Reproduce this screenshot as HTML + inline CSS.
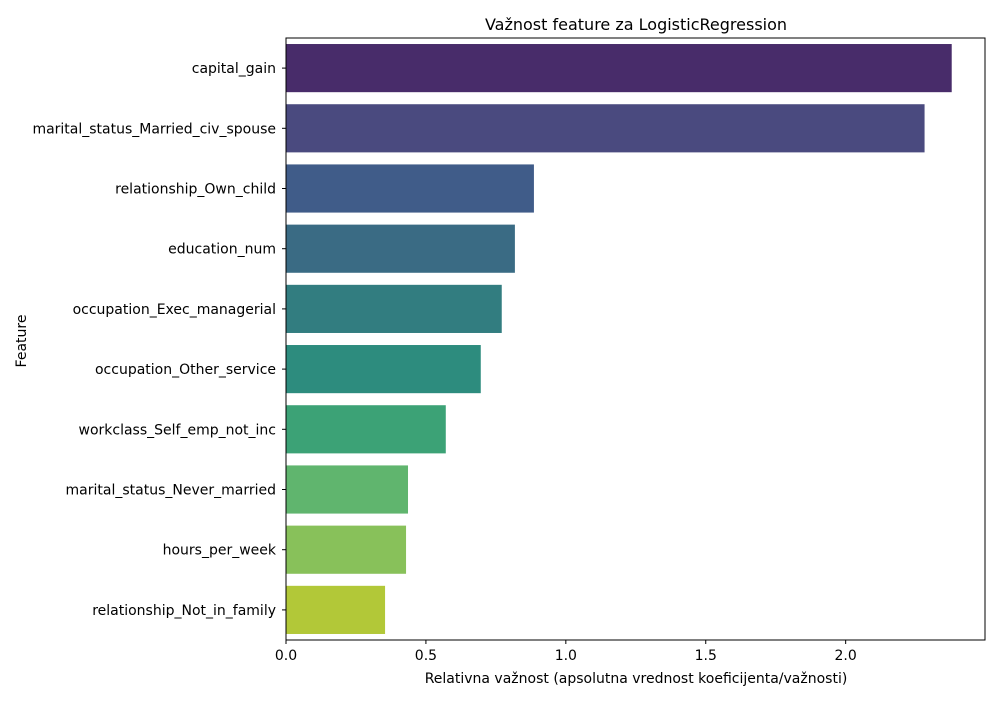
<!DOCTYPE html>
<html><head><meta charset="utf-8"><style>
body{margin:0;background:#fff;font-family:"Liberation Sans","DejaVu Sans",sans-serif;}
svg text{font-family:"DejaVu Sans","Liberation Sans",sans-serif;}
</style></head><body>
<svg id="chart" width="1000" height="700">
<text x="636" y="30" text-anchor="middle" font-size="16">Važnost feature za LogisticRegression</text>
<text x="636" y="683" text-anchor="middle" font-size="14">Relativna važnost (apsolutna vrednost koeficijenta/važnosti)</text>
<text transform="translate(26,341) rotate(-90)" text-anchor="middle" font-size="14">Feature</text>
<g id="bars"></g><g id="yticks"></g><g id="xticks"></g>
<rect x="286" y="38" width="699" height="602" fill="none" stroke="#000" stroke-width="1"/>
</svg>
<script>
const categories=["capital_gain","marital_status_Married_civ_spouse","relationship_Own_child","education_num","occupation_Exec_managerial","occupation_Other_service","workclass_Self_emp_not_inc","marital_status_Never_married","hours_per_week","relationship_Not_in_family"];
const values=[2.379,2.282,0.886,0.818,0.771,0.696,0.571,0.436,0.429,0.354];
const colors=["#482c6a","#4a4a7f","#405c89","#3a6b84","#327d80","#2d8c7e","#3ca276","#60b56e","#88c15a","#b2c838"];
const xTicks=[0,0.5,1.0,1.5,2.0];
const xTickLabels=["0.0","0.5","1.0","1.5","2.0"];
const ns="http://www.w3.org/2000/svg";
const plotLeft=286,plotRight=985,plotTop=38,plotBottom=640;
const xMax=Math.max(...values)*1.05;
const xs=v=>plotLeft+v/xMax*(plotRight-plotLeft);
const band=(plotBottom-plotTop)/categories.length;
const yc=i=>plotTop+band*(i+0.5);
const bars=document.getElementById('bars'),yt=document.getElementById('yticks'),xt=document.getElementById('xticks');
categories.forEach((c,i)=>{
 const r=document.createElementNS(ns,'rect');
 r.setAttribute('x',plotLeft);r.setAttribute('y',yc(i)-band*0.4);
 r.setAttribute('width',xs(values[i])-plotLeft);r.setAttribute('height',band*0.8);
 r.setAttribute('fill',colors[i]);
 
 
 bars.appendChild(r);
 const l=document.createElementNS(ns,'line');
 l.setAttribute('x1',plotLeft-4);l.setAttribute('x2',plotLeft);l.setAttribute('y1',yc(i));l.setAttribute('y2',yc(i));l.setAttribute('stroke','#000');
 
 
 yt.appendChild(l);
 const t=document.createElementNS(ns,'text');
 t.setAttribute('x',plotLeft-10);t.setAttribute('y',yc(i)+5);t.setAttribute('text-anchor','end');t.setAttribute('font-size','14');
 t.textContent=c;
 
 
 yt.appendChild(t);
});
xTicks.forEach((v,i)=>{
 const l=document.createElementNS(ns,'line');
 l.setAttribute('x1',xs(v));l.setAttribute('x2',xs(v));l.setAttribute('y1',plotBottom);l.setAttribute('y2',plotBottom+4);l.setAttribute('stroke','#000');
 
 
 xt.appendChild(l);
 const t=document.createElementNS(ns,'text');
 t.setAttribute('x',xs(v));t.setAttribute('y',plotBottom+20);t.setAttribute('text-anchor','middle');t.setAttribute('font-size','14');
 t.textContent=xTickLabels[i];
 
 
 xt.appendChild(t);
});
</script>
</body></html>
